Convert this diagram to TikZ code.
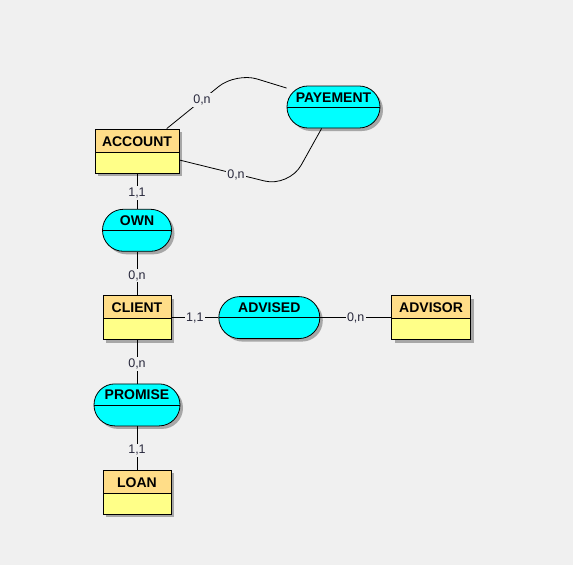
\documentclass[tikz,border=0pt]{standalone}
\usepackage{fontspec}
\setmainfont{Liberation Sans}
\usetikzlibrary{positioning,shadows}
\definecolor{bg}{RGB}{240,240,240}
\definecolor{enthead}{RGB}{255,221,136}
\definecolor{entbody}{RGB}{255,255,136}
\definecolor{relfill}{RGB}{0,255,255}
\definecolor{cardtext}{RGB}{40,40,60}
\tikzstyle{shadowed}=[drop shadow={shadow xshift=3pt,shadow yshift=-3pt,fill=black,opacity=0.3}]
\tikzstyle{entitybox}=[draw, fill=entbody, shadowed, minimum height=44pt, inner ysep=0pt, inner xsep=6pt, text height=17pt, text depth=27pt, font=\fontsize{14pt}{16pt}\selectfont\bfseries, path picture={\fill[enthead] (path picture bounding box.north west) rectangle ([yshift=-23pt]path picture bounding box.north east); \draw ([yshift=-23pt]path picture bounding box.north west) -- ([yshift=-23pt]path picture bounding box.north east);}]
\tikzstyle{relbox}=[draw, rectangle, rounded corners=20.9pt, fill=relfill, shadowed, minimum height=42pt, inner ysep=0pt, inner xsep=4pt, text height=16pt, text depth=26pt, font=\fontsize{14pt}{16pt}\selectfont\bfseries, path picture={\draw (path picture bounding box.west) -- (path picture bounding box.east);}]
\tikzstyle{cardnode}=[fill=bg, inner sep=1.5pt, text=cardtext, font=\fontsize{12.5pt}{14pt}\selectfont]

\begin{document}
\begin{tikzpicture}[x=1pt, y=-1pt, line width=0.8pt]
\fill[bg] (0,0) rectangle (573,565);
\node[entitybox, minimum width=84pt] (account) at (137,151) {ACCOUNT};
\node[relbox, minimum width=69pt, below=35.5pt of account] (own) {OWN};
\node[entitybox, minimum width=68pt, below=43.5pt of own] (client) {CLIENT};
\node[relbox, minimum width=86pt, below=43.5pt of client] (promise) {PROMISE};
\node[entitybox, minimum width=68pt, below=43.5pt of promise] (loan) {LOAN};
\node[relbox, minimum width=101pt, right=47pt of client] (advised) {ADVISED};
\node[entitybox, minimum width=79pt, right=71pt of advised] (advisor) {ADVISOR};
\node[relbox, minimum width=93pt] (payement) at (333.5,107) {PAYEMENT};
\coordinate (peak) at (236,72.5);
\coordinate (dip) at (289,187);
% links
\draw (account) -- node[cardnode, pos=0.55] (accown) {1,1} (own);
\draw (own) -- node[cardnode, pos=0.55] (ownclient) {0,n} (client);
\draw (client) -- node[cardnode, pos=0.55] (clientpromise) {0,n} (promise);
\draw (promise) -- node[cardnode, pos=0.55] (promiseloan) {1,1} (loan);
\draw (client) -- node[cardnode] (clientadvised) {1,1} (advised);
\draw (advised) -- node[cardnode] (advisedadvisor) {0,n} (advisor);
\draw[rounded corners=22pt] (account.37) -- (peak) -- (payement.158);
\draw[rounded corners=25pt] (account.-12) -- (dip) -- (payement.241);
\node[cardnode] (accpay1) at (202,100) {0,n};
\node[cardnode] (accpay2) at (236,175) {0,n};
\end{tikzpicture}
\end{document}
